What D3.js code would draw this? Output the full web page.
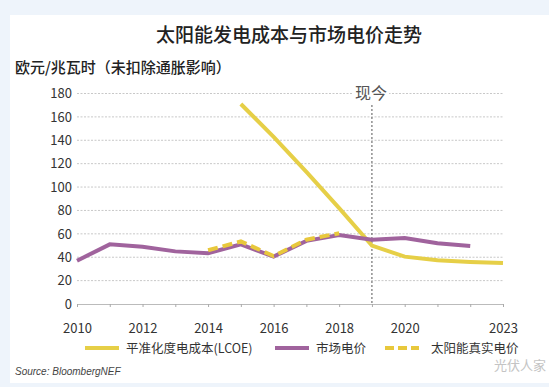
<!DOCTYPE html>
<html>
<head>
<meta charset="utf-8">
<script src="https://cdn.jsdelivr.net/npm/d3@7"></script>
<style>
    body { margin: 0; background: #eef4fb; }
    text { font-family: "Noto Sans CJK SC", "Noto Sans", sans-serif; }
</style>
</head>
<body>
<div id="chart"></div>
<script>
// data
var years = [2010, 2011, 2012, 2013, 2014, 2015, 2016, 2017, 2018, 2019, 2020, 2021, 2022, 2023];
var marketPrice = [37, 51, 49, 45, 43.5, 51, 40.5, 54, 59, 55, 56.5, 52, 49.5, null];
var realPrice = [null, null, null, null, 46, 53.5, 41, 55, 60.5, null, null, null, null, null];
var lcoe = [null, null, null, null, null, 171, 143, 113, 82, 50, 40.5, 37.5, 36, 35];
var yTicks = [0, 20, 40, 60, 80, 100, 120, 140, 160, 180];
var xTickLabels = [2010, 2012, 2014, 2016, 2018, 2020, 2023];
var nowYear = 2019;

var colors = {lcoe: "#e6cf47", market: "#a0639d", real: "#e8c83c"};

(function (window, undefined) {

    var width = 549, height = 387;

    var svg = d3.select("#chart").append("svg")
        .attr("width", width)
        .attr("height", height);

    //white panel on the blue page
    svg.append("rect")
        .attr("x", 10).attr("y", 15)
        .attr("width", width - 10).attr("height", 368)
        .attr("fill", "white");

    var x = d3.scaleLinear().domain([2010, 2023]).range([77, 503]);
    var y = d3.scaleLinear().domain([0, 180]).range([304, 93.5]);

    //title
    svg.append("text")
        .attr("x", 289).attr("y", 42)
        .attr("text-anchor", "middle")
        .style("font-size", "19px")
        .style("font-weight", 500)
        .attr("fill", "#222")
        .text("太阳能发电成本与市场电价走势");

    svg.append("text")
        .attr("x", 15).attr("y", 73)
        .style("font-size", "15px")
        .style("font-weight", 500)
        .attr("fill", "#222")
        .text("欧元/兆瓦时（未扣除通胀影响）");

    //grid lines
    svg.append("g").selectAll("line")
        .data(yTicks.filter(function(d){ return d > 0; }))
        .enter().append("line")
        .attr("x1", x(2010)).attr("x2", x(2023))
        .attr("y1", function(d){ return y(d); })
        .attr("y2", function(d){ return y(d); })
        .attr("stroke", "#c8c8c8")
        .attr("stroke-width", 1)
        .attr("stroke-dasharray", "2,1.5");

    //y axis labels
    var yAxis = d3.axisLeft(y).tickValues(yTicks).tickSize(0).tickPadding(5);
    var yG = svg.append("g")
        .attr("transform", "translate(" + x(2010) + ",0)")
        .call(yAxis);
    yG.select(".domain").remove();
    yG.selectAll("text")
        .style("font-size", "13px")
        .attr("fill", "#333");

    //x axis
    var xAxis = d3.axisBottom(x)
        .tickValues(years)
        .tickSize(3)
        .tickFormat(function(d){ return xTickLabels.indexOf(d) >= 0 ? d : ""; });
    var xG = svg.append("g")
        .attr("transform", "translate(0," + y(0) + ")")
        .call(xAxis);
    xG.select(".domain").attr("stroke", "#bbb");
    xG.selectAll(".tick line").attr("stroke", "#aaa");
    xG.selectAll("text")
        .attr("y", 20)
        .style("font-size", "13px")
        .attr("fill", "#333");

    //today marker
    svg.append("line")
        .attr("x1", x(nowYear)).attr("x2", x(nowYear))
        .attr("y1", 105).attr("y2", y(0))
        .attr("stroke", "#555")
        .attr("stroke-width", 1)
        .attr("stroke-dasharray", "2,2");

    var nowLabel = svg.append("text")
        .attr("x", x(nowYear) - 1).attr("y", 99)
        .attr("text-anchor", "middle")
        .style("font-size", "16px")
        .attr("fill", "#555")
        .text("现今");
    var bb = nowLabel.node().getBBox();
    svg.insert("rect", function(){ return nowLabel.node(); })
        .attr("x", bb.x - 2).attr("y", bb.y)
        .attr("width", bb.width + 4).attr("height", bb.height)
        .attr("fill", "white");

    //lines
    var line = d3.line()
        .defined(function(d){ return d.v != null; })
        .x(function(d){ return x(d.year); })
        .y(function(d){ return y(d.v); });

    function toPoints(values){
        return years.map(function(yr, i){ return {year: yr, v: values[i]}; });
    }

    svg.append("path")
        .datum(toPoints(lcoe))
        .attr("d", line)
        .attr("fill", "none")
        .attr("stroke", colors.lcoe)
        .attr("stroke-width", 4);

    svg.append("path")
        .datum(toPoints(marketPrice))
        .attr("d", line)
        .attr("fill", "none")
        .attr("stroke", colors.market)
        .attr("stroke-width", 4);

    svg.append("path")
        .datum(toPoints(realPrice))
        .attr("d", line)
        .attr("fill", "none")
        .attr("stroke", colors.real)
        .attr("stroke-width", 4)
        .attr("stroke-dasharray", "10,5");

    //legend
    var legendItems = [
        {label: "平准化度电成本(LCOE)", color: colors.lcoe, dash: null, x: 85},
        {label: "市场电价", color: colors.market, dash: null, x: 275},
        {label: "太阳能真实电价", color: colors.real, dash: "9,4", x: 385}
    ];
    var legend = svg.append("g").selectAll("g")
        .data(legendItems)
        .enter().append("g")
        .attr("transform", function(d){ return "translate(" + d.x + ",348)"; });
    legend.append("line")
        .attr("x1", 0).attr("x2", 34)
        .attr("stroke", function(d){ return d.color; })
        .attr("stroke-width", 4)
        .attr("stroke-dasharray", function(d){ return d.dash; });
    legend.append("text")
        .attr("x", function(d){ return d.dash ? 46 : 41; })
        .attr("y", 4.5)
        .style("font-size", "12.5px")
        .attr("fill", "#333")
        .text(function(d){ return d.label; });

    //source + watermark
    svg.append("text")
        .attr("x", 15).attr("y", 375)
        .style("font-size", "10px")
        .style("font-style", "italic")
        .style("font-family", "Liberation Sans, sans-serif")
        .attr("fill", "#444")
        .text("Source: BloombergNEF");

    svg.append("text")
        .attr("x", 494).attr("y", 370)
        .style("font-size", "13px")
        .attr("fill", "#c4c4c4")
        .text("光伏人家");

})(window)
</script>
</body>
</html>
